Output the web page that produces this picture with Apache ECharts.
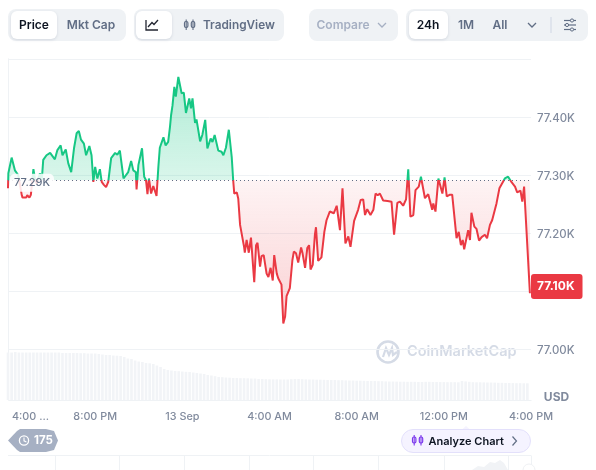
<!DOCTYPE html>
<html lang="en">
<head>
<meta charset="UTF-8">
<title>Bitcoin price 24h</title>
<script src="https://cdn.jsdelivr.net/npm/echarts@6/dist/echarts.min.js"></script>
<style>
  html, body { margin: 0; padding: 0; background: #fff; }
  #chart { width: 596px; height: 470px; }
</style>
</head>
<body>
<div id="chart"></div>
<script>
// minutes since the start of the 24h window
var minutes = [0,1,10,15,19,24,28,33,38,40,50,53,59,63,67,70,74,79,88,93,97,106,116,120,129,136,141,145,150,159,166,174,182,189,195,201,209,215,224,230,235,240,246,253,258,264,270,276,284,288,295,301,308,318,331,339,345,352,354,359,363,369,375,380,384,388,394,400,405,409,414,418,428,434,441,446,449,453,458,462,469,474,478,484,490,499,504,508,515,519,529,535,538,543,549,553,558,563,569,574,579,584,588,593,600,604,608,616,620,623,630,634,639,643,650,652,657,663,669,678,683,687,694,698,704,712,717,723,729,733,740,744,753,758,763,767,776,783,787,793,799,807,811,818,824,829,833,839,845,848,854,859,863,871,877,886,897,905,914,921,923,929,937,943,953,958,964,971,978,983,989,998,1006,1012,1018,1024,1033,1045,1056,1063,1072,1079,1088,1096,1102,1108,1116,1122,1131,1137,1148,1157,1168,1171,1177,1185,1196,1202,1208,1217,1223,1235,1241,1247,1252,1256,1267,1272,1276,1284,1290,1297,1304,1313,1319,1327,1333,1345,1353,1368,1377,1386,1396,1402,1411,1416,1421,1437];
var prices = [77277,77303,77330,77328,77308,77310,77300,77283,77265,77261,77261,77265,77261,77266,77291,77310,77294,77285,77303,77291,77326,77334,77338,77341,77327,77343,77340,77351,77334,77344,77320,77305,77347,77372,77376,77361,77354,77334,77350,77334,77288,77314,77294,77310,77288,77283,77279,77288,77329,77327,77338,77335,77342,77294,77305,77324,77308,77305,77275,77317,77317,77346,77297,77291,77267,77294,77268,77281,77278,77264,77314,77347,77365,77351,77357,77383,77403,77420,77452,77435,77469,77466,77441,77442,77407,77432,77415,77432,77390,77396,77358,77369,77370,77395,77346,77349,77363,77357,77369,77370,77342,77345,77340,77334,77347,77350,77378,77331,77291,77268,77270,77259,77214,77217,77176,77166,77188,77166,77192,77115,77179,77183,77142,77160,77162,77130,77124,77140,77118,77162,77130,77122,77111,77044,77056,77091,77105,77153,77168,77165,77149,77175,77165,77140,77174,77179,77137,77145,77197,77210,77152,77149,77158,77202,77222,77237,77234,77247,77205,77277,77280,77182,77194,77176,77221,77220,77240,77257,77258,77231,77241,77231,77240,77268,77265,77268,77256,77255,77254,77197,77252,77254,77247,77258,77310,77228,77231,77274,77280,77297,77260,77267,77240,77251,77237,77294,77268,77296,77263,77266,77266,77191,77202,77179,77188,77172,77205,77188,77235,77211,77207,77187,77193,77197,77191,77214,77222,77251,77277,77294,77297,77288,77280,77270,77273,77254,77280,77096];
// one volume bar every 10 minutes
var volumes = [47.5,47.5,48,47.5,47.5,47.5,47.5,47.5,47.5,47.5,47.5,47.5,47.5,47.5,47.5,47,47,47,47,47,46.8,46.8,46.5,46.5,46.5,46,45.5,45,45,44.5,44.3,44,43,41.5,41,39.5,38.5,38,37,36.7,36,34.5,33,31,30,29.5,29,28.8,28.5,28.2,28,27.5,27,26.5,26,25,24.5,23.8,23,22.8,22.5,22.3,22,22,21.8,21.8,21.7,21.5,21.5,21,21,20.8,20.7,20.6,20.6,20.5,20.5,20.5,20.8,21,21,20.8,20.6,20.5,20.5,20.3,20.3,20.2,20,20,20,19.8,19.8,19.6,19.5,19.5,19.3,19.3,19.2,19,19,19,18.8,18.8,18.6,18.5,18.5,18.4,18.3,18.3,18.2,18.2,18.2,18,18,18.2,18.2,18,18,17.9,17.9,17.8,17.8,17.8,17.7,19,18.6,18.2,17.8,17.7,17.7,17.6,17.5,17.5,17.4,17.2,17.2,17,17,16.9,16.8,16.8,16.7,16.7];
var basePrice = 77291;
var lastPrice = 77100;
var xTickLabels = ['4:00 ...', '8:00 PM', '13 Sep', '4:00 AM', '8:00 AM', '12:00 PM', '4:00 PM'];

var GREEN = '#16c784', RED = '#ea3943', GRID = '#eff2f5';
var FONT = 'Inter, sans-serif';

function kLabel(v) { return (v / 1000).toFixed(2) + 'K'; }

var linePoints = minutes.map(function (m, i) { return [m, prices[i]]; });
var volPoints = volumes.map(function (v, i) { return [i * 10, v]; });

// where the baseline sits inside the area's own bounding box
var hi = Math.max.apply(null, prices), lo = Math.min.apply(null, prices);
var split = (hi - basePrice) / (hi - lo);

function rect(x, y, w, h, r, fill, extra) {
  var st = { fill: fill };
  for (var k in extra) st[k] = extra[k];
  return { type: 'rect', shape: { x: x, y: y, width: w, height: h, r: r }, style: st };
}
function label(t, x, y, color, weight, size, align) {
  return { type: 'text', style: {
    text: t, x: x, y: y, fill: color, textAlign: align || 'center', textVerticalAlign: 'middle',
    font: (weight || 600) + ' ' + (size || 12) + 'px ' + FONT } };
}
function stroke(points, color, w) {
  return { type: 'polyline', shape: { points: points }, style: { stroke: color, fill: null, lineWidth: w || 1.3 } };
}
function candles(x, y, color) {
  return [
    rect(x, y + 2, 3.4, 6, 1.4, 'transparent', { stroke: color, lineWidth: 1.2 }),
    stroke([[x + 1.7, y], [x + 1.7, y + 10.5]], color, 1.1),
    rect(x + 6.8, y + 2, 3.4, 6, 1.4, 'transparent', { stroke: color, lineWidth: 1.2 }),
    stroke([[x + 8.5, y], [x + 8.5, y + 10.5]], color, 1.1)
  ];
}
function chevron(x, y, color) {
  return stroke([[x - 4, y - 2], [x, y + 2], [x + 4, y - 2]], color, 1.3);
}

var SHADOW = { shadowColor: 'rgba(88,102,126,0.18)', shadowBlur: 3, shadowOffsetY: 1 };
var MUTED = '#616e85', PALE = '#a6b0c3', INK = '#0d1421';

var decor = [
  // toolbar
  rect(8, 9, 118, 32, 8, GRID),
  rect(11, 11, 46, 28, 6, '#fff', SHADOW),
  label('Price', 34, 25, INK),
  label('Mkt Cap', 91, 25, MUTED),
  rect(134, 9, 150, 32, 8, GRID),
  rect(136, 11, 36, 28, 6, '#fff', SHADOW),
  stroke([[146, 20], [146, 30], [158, 30]], '#222531'),
  stroke([[148, 27], [152, 22.5], [154, 24.5], [158, 20]], '#222531'),
  label('TradingView', 203, 25, MUTED, 600, 11.8, 'left'),
  rect(309, 9, 89, 32, 8, GRID),
  label('Compare', 343, 25, PALE),
  chevron(382, 25, PALE),
  rect(406, 9, 182, 32, 8, GRID),
  rect(409, 11, 39, 28, 6, '#fff', SHADOW),
  label('24h', 428, 25, INK),
  label('1M', 466, 25, MUTED),
  label('All', 500, 25, MUTED),
  chevron(532, 25, MUTED),
  stroke([[551, 17], [551, 33]], '#cfd6e4', 1),
  stroke([[564, 20.5], [576, 20.5]], MUTED, 1.2),
  stroke([[564, 25], [576, 25]], MUTED, 1.2),
  stroke([[564, 29.5], [576, 29.5]], MUTED, 1.2),
  { type: 'circle', shape: { cx: 572, cy: 20.5, r: 1.6 }, style: { fill: '#eff2f5', stroke: MUTED, lineWidth: 1 } },
  { type: 'circle', shape: { cx: 567, cy: 25, r: 1.6 }, style: { fill: '#eff2f5', stroke: MUTED, lineWidth: 1 } },
  { type: 'circle', shape: { cx: 572, cy: 29.5, r: 1.6 }, style: { fill: '#eff2f5', stroke: MUTED, lineWidth: 1 } },

  // frame around the plot
  stroke([[8.5, 58.5], [8.5, 400.5], [531.5, 400.5]], GRID, 1),

  // watermark
  { type: 'circle', shape: { cx: 388, cy: 352, r: 10.5 }, style: { fill: null, stroke: '#d5dbe6', lineWidth: 2.6 } },
  stroke([[383, 357], [386, 348], [389, 355], [392, 348], [393, 355], [397, 352]], '#d5dbe6', 2.2),
  label('CoinMarketCap', 407, 352, '#d5dbe6', 600, 14.5, 'left'),

  label('USD', 556.5, 397, '#808a9d', 700, 12),

  // history pill
  { type: 'polygon', shape: { points: [[8, 440.5], [17, 431], [20, 429], [46, 429], [54, 431], [58, 440.5], [54, 450], [46, 452], [20, 452], [17, 450]] }, style: { fill: PALE } },
  { type: 'circle', shape: { cx: 24, cy: 440.5, r: 4.6 }, style: { fill: null, stroke: '#fff', lineWidth: 1.3 } },
  stroke([[24, 437.5], [24, 440.8], [26.4, 442]], '#fff', 1.1),
  label('175', 43.5, 441, '#fff', 700, 11.5),

  // analyze pill
  { type: 'polygon', shape: { points: [[462, 429.5], [466, 426], [470, 429.5]] }, style: { fill: '#f5f3ff' } },
  rect(401.5, 429.5, 129, 23, 11.5, '#f5f3ff', { stroke: '#e3e0fb', lineWidth: 1 })
].concat(candles(412.5, 435, '#7c3aed')).concat([
  label('Analyze Chart', 428.5, 441.5, '#0d1421', 600, 11, 'left'),
  stroke([[512.5, 436.5], [516.5, 441], [512.5, 445.5]], '#616e85', 1.2),

  // cut-off strip at the bottom edge
  stroke([[8, 455.5], [531, 455.5]], GRID, 1)
]);

[55, 119, 184, 249, 313, 378, 444, 508, 531].forEach(function (x) {
  decor.push(stroke([[x + 0.5, 455.5], [x + 0.5, 470]], GRID, 1));
});
decor.push({ type: 'polygon', shape: { points: [[472, 470], [478, 466], [484, 467], [490, 462], [495, 463], [500, 460], [504, 463], [508, 470]] }, style: { fill: '#f1f3f6' } });
decor.push({ type: 'circle', shape: { cx: 529, cy: 470, r: 6 }, style: { fill: '#fff', stroke: '#eef0f3', lineWidth: 1 } });
// icon for TradingView button goes in after the rects
decor = decor.concat(candles(184.5, 19.5, MUTED));

var axisText = { color: '#808a9d', fontFamily: FONT, fontWeight: 500 };

var option = {
  animation: false,
  textStyle: { fontFamily: FONT },
  grid: [
    { left: 8, width: 523, top: 59, height: 290 },
    { left: 8, width: 523, top: 350, height: 50 }
  ],
  xAxis: [
    { type: 'value', gridIndex: 0, min: 0, max: 1440, interval: 240,
      axisLine: { show: false }, axisTick: { show: false }, axisLabel: { show: false }, splitLine: { show: false } },
    { type: 'value', gridIndex: 1, min: 0, max: 1440, interval: 240,
      axisLine: { show: false }, axisTick: { show: false }, splitLine: { show: false },
      axisLabel: Object.assign({}, axisText, { fontSize: 10.8, margin: 11, alignMinLabel: 'left',
        rich: { first: { color: '#808a9d', fontFamily: FONT, fontWeight: 500, fontSize: 10.8, padding: [0, 0, 0, 4] } },
        formatter: function (v) {
          return v === 0 ? '{first|' + xTickLabels[0] + '}' : xTickLabels[v / 240];
        } }) }
  ],
  yAxis: [
    { type: 'value', gridIndex: 0, position: 'right', min: 77000, max: 77500, interval: 100,
      axisLine: { show: true, lineStyle: { color: GRID } }, axisTick: { show: false },
      splitLine: { lineStyle: { color: GRID } },
      axisLabel: Object.assign({}, axisText, { fontSize: 11.4, margin: 6, showMaxLabel: false,
        rich: { tick: { color: '#808a9d', fontFamily: FONT, fontWeight: 500, fontSize: 11.4, padding: [3, 0, 0, 0] } },
        formatter: function (v) { return '{tick|' + kLabel(v) + '}'; } }) },
    { type: 'value', gridIndex: 1, position: 'right', min: 0, max: 50,
      axisLine: { show: true, lineStyle: { color: GRID } }, axisTick: { show: false },
      axisLabel: { show: false }, splitLine: { show: false } }
  ],
  visualMap: {
    show: false, type: 'piecewise', seriesIndex: 0, dimension: 1,
    pieces: [{ gte: 77000, lt: basePrice, color: RED }, { gte: basePrice, lte: 77500, color: GREEN }]
  },
  series: [
    {
      type: 'line', xAxisIndex: 0, yAxisIndex: 0, data: linePoints, showSymbol: false, symbol: 'none',
      lineStyle: { width: 2 }, clip: false,
      areaStyle: {
        origin: basePrice, opacity: 1,
        color: { type: 'linear', x: 0, y: 0, x2: 0, y2: 1, colorStops: [
          { offset: 0, color: 'rgba(22,199,132,0.34)' },
          { offset: split, color: 'rgba(22,199,132,0.16)' },
          { offset: split, color: 'rgba(234,57,67,0.06)' },
          { offset: 1, color: 'rgba(234,57,67,0.23)' }
        ] }
      },
      markLine: {
        silent: true, symbol: 'none', label: { show: false },
        lineStyle: { color: '#616e85', type: [1, 3], width: 1 },
        data: [{ yAxis: basePrice }]
      },
      markPoint: {
        silent: true, symbol: 'circle', symbolSize: 0,
        data: [
          { coord: [0, basePrice], value: kLabel(basePrice), label: {
            show: true, position: 'right', distance: 2, offset: [0, 2.5], color: '#616e85', fontSize: 11, fontWeight: 500, fontFamily: FONT,
            backgroundColor: 'rgba(255,255,255,0.86)', borderRadius: 5, padding: [4, 4, 3, 4] } },
          { coord: [1440, lastPrice], value: kLabel(lastPrice), label: {
            show: true, position: 'right', distance: 0, offset: [0, -4.5], color: '#fff', fontSize: 12, fontWeight: 700, fontFamily: FONT,
            backgroundColor: RED, borderRadius: 3, padding: [7, 8, 6, 6] } }
        ]
      }
    },
    {
      type: 'bar', xAxisIndex: 1, yAxisIndex: 1, data: volPoints, barWidth: 2.6,
      itemStyle: { color: '#f2f4f7' }, silent: true
    }
  ],
  graphic: { elements: decor }
};

var chart = echarts.init(document.getElementById('chart'));
chart.setOption(option);
</script>
</body>
</html>
